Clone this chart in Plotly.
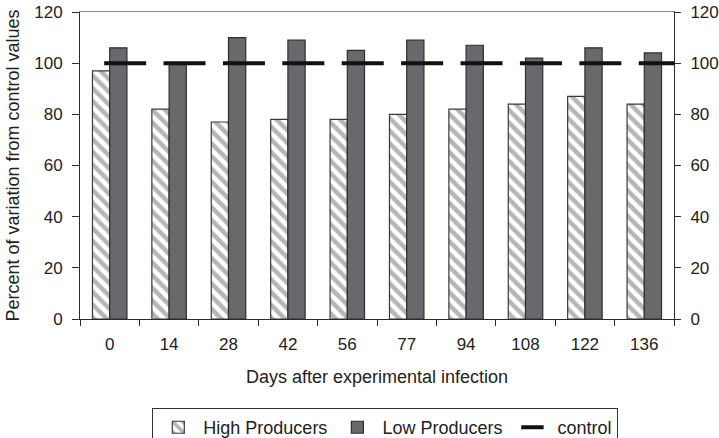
import plotly.graph_objects as go

days = ["0", "14", "28", "42", "56", "77", "94", "108", "122", "136"]
high_producers = [97, 82, 77, 78, 78, 80, 82, 84, 87, 84]
low_producers = [106, 100, 110, 109, 105, 109, 107, 102, 106, 104]
control = [100, 100, 100, 100, 100, 100, 100, 100, 100, 100]
y_ticks = [0, 20, 40, 60, 80, 100, 120]

FONT = "Liberation Sans, Arial, sans-serif"
AX = "#2b2b2b"
FT = 17   # tick labels
FS = 18   # titles / legend

fig = go.Figure()
fig.add_trace(go.Bar(
    x=days, y=high_producers, name="High Producers",
    marker=dict(color="white", line=dict(color="#3a3a3a", width=1.2),
                pattern=dict(shape="\\", fgcolor="#6e6e6e", bgcolor="white",
                             size=9, solidity=0.5)),
))
fig.add_trace(go.Bar(
    x=days, y=low_producers, name="Low Producers",
    marker=dict(color="#69696d", line=dict(color="#2f2f2f", width=1.2)),
))
ctrl_x = [i + 0.26 for i in range(len(days))]
fig.add_trace(go.Scatter(
    x=ctrl_x, y=control, name="control", mode="markers",
    xaxis="x2", yaxis="y2",
    marker=dict(symbol="line-ew", size=30, line=dict(color="#111111", width=4)),
))

fig.update_layout(
    width=719, height=438,
    margin=dict(l=80, r=45, t=12, b=119, autoexpand=False),
    paper_bgcolor="white", plot_bgcolor="white",
    font=dict(family=FONT, size=FS, color="#222"),
    barmode="group", bargap=0.42, bargroupgap=0,
    showlegend=True,
    legend=dict(orientation="h", x=0.514, xanchor="center", y=-0.29, yanchor="top",
                bordercolor="#333", borderwidth=1, font=dict(size=FS),
                itemwidth=40, tracegroupgap=0, traceorder="normal"),
    xaxis=dict(
        type="category", showline=True, linecolor=AX, linewidth=1, automargin=False,
        ticks="outside", ticklen=6, tickcolor=AX, tickson="boundaries",
        ticklabelstandoff=10,
        showgrid=False, zeroline=False,
        title=dict(text="Days after experimental infection", standoff=16,
                   font=dict(size=FS)),
        tickfont=dict(size=FT),
    ),
    xaxis2=dict(
        overlaying="x", side="top", range=[-0.5, len(days) - 0.5], automargin=False,
        showline=True, linecolor="#8a8a8a", linewidth=1,
        showticklabels=False, ticks="", showgrid=False, zeroline=False,
    ),
    yaxis=dict(
        range=[0, 120], tickvals=y_ticks, showline=True, linecolor=AX, linewidth=1,
        automargin=False,
        ticks="outside", ticklen=7, tickcolor=AX, showgrid=False, zeroline=False,
        ticklabelstandoff=6,
        title=dict(text="Percent of variation from control values", standoff=9,
                   font=dict(size=FS)),
        tickfont=dict(size=FT),
    ),
    yaxis2=dict(
        overlaying="y", side="right", range=[0, 120], tickvals=y_ticks,
        automargin=False, ticklabelstandoff=6,
        showline=True, linecolor=AX, linewidth=1, ticks="outside", ticklen=6,
        tickcolor=AX, showgrid=False, zeroline=False, tickfont=dict(size=FT),
    ),
)

fig.write_html("out.html", config={"displayModeBar": False},
               post_script="document.body.style.margin='0px';")
